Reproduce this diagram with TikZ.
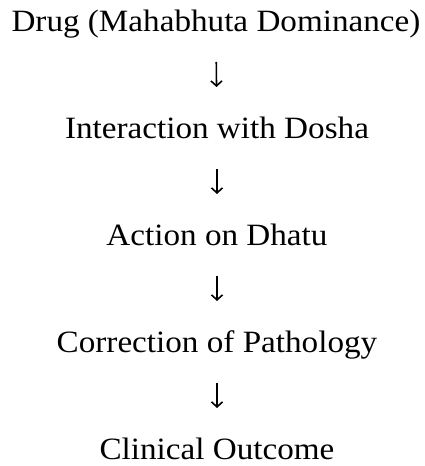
\documentclass[tikz,border=0pt]{standalone}
\usepackage{fontspec}
\setmainfont[FakeStretch=1.07]{Liberation Serif}
\usetikzlibrary{arrows.meta}

\begin{document}
\begin{tikzpicture}[x=1pt,y=1pt,
		passo/.style={inner sep=0pt, anchor=base, font=\fontsize{31}{37}\selectfont},
		freccia/.style={-{Straight Barb[length=5pt,width=11pt]}, line width=1.6pt, shorten <=30pt, shorten >=52pt}]
		\useasboundingbox (0,0) rectangle (425,466);
		
		%PASSI
		\node[passo] (drug) at (216,434) {Drug (Mahabhuta Dominance)};
		\node[passo] (dosha) at (217,327) {Interaction with Dosha};
		\node[passo] (dhatu) at (217,220) {Action on Dhatu};
		\node[passo] (patho) at (217,113) {Correction of Pathology};
		\node[passo] (esito) at (217,6) {Clinical Outcome};
		
		%frecce
		\draw[freccia] (drug.base) -- (dosha.base);
		\draw[freccia] (dosha.base) -- (dhatu.base);
		\draw[freccia] (dhatu.base) -- (patho.base);
		\draw[freccia] (patho.base) -- (esito.base);
		
	\end{tikzpicture}
\end{document}
